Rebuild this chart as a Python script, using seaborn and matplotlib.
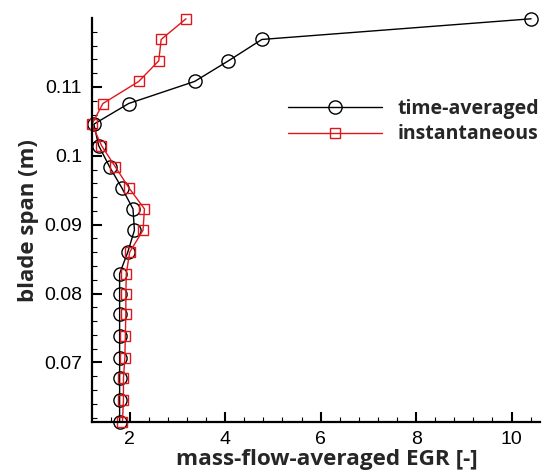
import numpy as np
import pandas as pd
import matplotlib
matplotlib.use("Agg")
import matplotlib.pyplot as plt
from matplotlib.ticker import MultipleLocator
import seaborn as sns

# ── Data ──────────────────────────────────────────────────────
span = [0.1199, 0.1169, 0.1138, 0.1108, 0.1076, 0.1046, 0.1015, 0.0984,
        0.0953, 0.0923, 0.0892, 0.0860, 0.0829, 0.0800, 0.0770, 0.0739,
        0.0707, 0.0677, 0.0646, 0.0614]
egr_time_avg = [10.41, 4.77, 4.07, 3.36, 1.98, 1.25, 1.35, 1.58,
                1.84, 2.07, 2.10, 1.96, 1.79, 1.79, 1.79, 1.79,
                1.79, 1.79, 1.79, 1.79]
egr_instant = [3.18, 2.66, 2.61, 2.19, 1.44, 1.21, 1.41, 1.70,
               1.99, 2.31, 2.28, 2.00, 1.93, 1.92, 1.92, 1.91,
               1.90, 1.87, 1.87, 1.85]

df = pd.DataFrame({"span": span, "time": egr_time_avg, "inst": egr_instant})

sns.set_style("ticks")
plt.rcParams["font.family"] = ["Liberation Sans", "DejaVu Sans"]

fig = plt.figure(figsize=(5.44, 4.73), dpi=100)
ax = fig.add_axes([0.169, 0.1085, 0.824, 0.8525])

RED = "#e0161b"
sns.lineplot(data=df, x="time", y="span", sort=False, estimator=None, ax=ax,
             color="black", lw=1.0, marker="o", markersize=9.5,
             markerfacecolor="none", markeredgecolor="black",
             markeredgewidth=1.0, label="time-averaged", clip_on=False)
sns.lineplot(data=df, x="inst", y="span", sort=False, estimator=None, ax=ax,
             color=RED, lw=1.0, marker="s", markersize=7.5,
             markerfacecolor="none", markeredgecolor=RED,
             markeredgewidth=1.0, label="instantaneous", clip_on=False)

ax.set_xlim(1.21, 10.6)
ax.set_ylim(0.0614, 0.11995)
ax.xaxis.set_major_locator(MultipleLocator(2))
ax.xaxis.set_minor_locator(MultipleLocator(0.4))
ax.yaxis.set_major_locator(MultipleLocator(0.01))
ax.yaxis.set_minor_locator(MultipleLocator(0.002))
ax.yaxis.set_major_formatter(plt.FuncFormatter(lambda v, p: f"{v:.2f}".rstrip("0")))

sns.despine(ax=ax)
for s in ["left", "bottom"]:
    ax.spines[s].set_linewidth(1.6)
    ax.spines[s].set_color("black")
ax.tick_params(which="major", direction="in", length=7, width=1.5,
               labelsize=14, pad=7, colors="black")
ax.tick_params(which="minor", direction="in", length=3.5, width=0.8,
               colors="black")

ax.set_xlabel("mass-flow-averaged EGR [-]", family="Open Sans",
              fontweight="bold", fontsize=16.2, labelpad=1)
ax.xaxis.set_label_coords(0.525, -0.068)
ax.set_ylabel("blade span (m)", family="Open Sans",
              fontweight="bold", fontsize=16, labelpad=4)

leg = ax.legend(loc="upper left", bbox_to_anchor=(0.529, 0.7905),
                bbox_transform=fig.transFigure, frameon=False,
                handlelength=4.85, handletextpad=0.8, labelspacing=0.27,
                borderpad=0, borderaxespad=0,
                prop={"family": "Open Sans", "weight": "bold", "size": 14})

fig.savefig("out.png", dpi=100)
